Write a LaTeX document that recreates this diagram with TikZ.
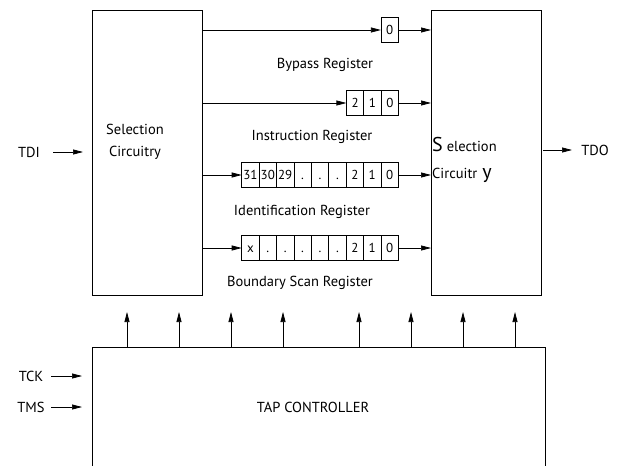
\documentclass[tikz,border=0pt]{standalone}
\usepackage{fontspec}
\setmainfont{PT Sans}
\usetikzlibrary{arrows.meta,positioning}

\begin{document}
\begin{tikzpicture}[x=1pt,y=-1pt,
  box/.style={draw,line width=0.7pt,minimum width=110pt,minimum height=285pt,inner sep=0pt,outer sep=0pt},
  cell/.style={draw,line width=0.7pt,minimum width=17.4pt,minimum height=25pt,inner sep=0pt,outer sep=0pt,text height=9.5pt,text depth=0pt,font=\fontsize{13}{13}\selectfont},
  sig/.style={-{Triangle[length=10pt,width=5pt]},line width=0.7pt},
  lbl/.style={font=\fontsize{14.5}{17}\selectfont}]
\useasboundingbox (0,0) rectangle (617,465);
\clip (0,0) rectangle (617,465);
% selection blocks
\node[box] (selL) at (147,152.5) {};
\node[box] (selR) at (486,152.5) {};
\node[lbl,align=center,font=\fontsize{14.5}{22}\selectfont] (selLtxt) at (135,142) {Selection\\Circuitry};
\node[lbl,anchor=base west,inner sep=0pt] (selRtxt1) at (432,151) {{\fontsize{20}{20}\selectfont S}\hspace{4pt}election};
\node[lbl,anchor=base west,inner sep=0pt] (selRtxt2) at (432,178) {Circuitr\hspace{5pt}{\fontsize{20}{20}\selectfont y}};
% registers
\node[cell] (bp1) at (389.6,30) {0};
\foreach \t [count=\i] in {2,1,0}
  \node[cell] (ir\i) at ({346.4+17.4*(\i-0.5)},103) {\t};
\foreach \t [count=\i] in {31,30,29,.,.,.,2,1,0}
  \node[cell] (id\i) at ({241.7+17.4*(\i-0.5)},175) {\t};
\foreach \t [count=\i] in {x,.,.,.,.,.,2,1,0}
  \node[cell] (bs\i) at ({241.7+17.4*(\i-0.5)},248) {\t};
\node[lbl] (bplbl) at (325,65) {Bypass Register};
\node[lbl] (irlbl) at (312,137) {Instruction Register};
\node[lbl] (idlbl) at (302,212) {Identification Register};
\node[lbl] (bslbl) at (300,283) {Boundary Scan Register};
% register paths
\foreach \a/\b in {bp1/bp1,ir1/ir3,id1/id9,bs1/bs9}{
  \draw[sig] (selL.east |- \a.west) -- (\a.west);
  \draw[sig] (\b.east) -- (selR.west |- \b.east);
}
% tap controller
\node[box,minimum width=453pt,minimum height=140pt] (tap) at (318.5,417) {};
\node[lbl] (taptxt) at (313,407) {TAP CONTROLLER};
\foreach \x in {127,179,231,283,359,411,463,515}
  \draw[sig] (tap.north -| \x,0) -- ++(0,-35);
% pins
\node[lbl] (tdi) at (29,152) {TDI};
\node[lbl] (tck) at (31,376) {TCK};
\node[lbl] (tms) at (31,407) {TMS};
\node[lbl] (tdo) at (595,150) {TDO};
\draw[sig] (53,0 |- tdi.east) -- ([xshift=-9pt]tdi.east -| selL.west);
\draw[sig] (51,0 |- tck.east) -- ([xshift=-10pt]tck.east -| tap.west);
\draw[sig] (51,0 |- tms.east) -- ([xshift=-10pt]tms.east -| tap.west);
\draw[sig] ([xshift=2pt]selR.east |- tdo.west) -- (572,0 |- tdo.west);
\end{tikzpicture}
\end{document}
